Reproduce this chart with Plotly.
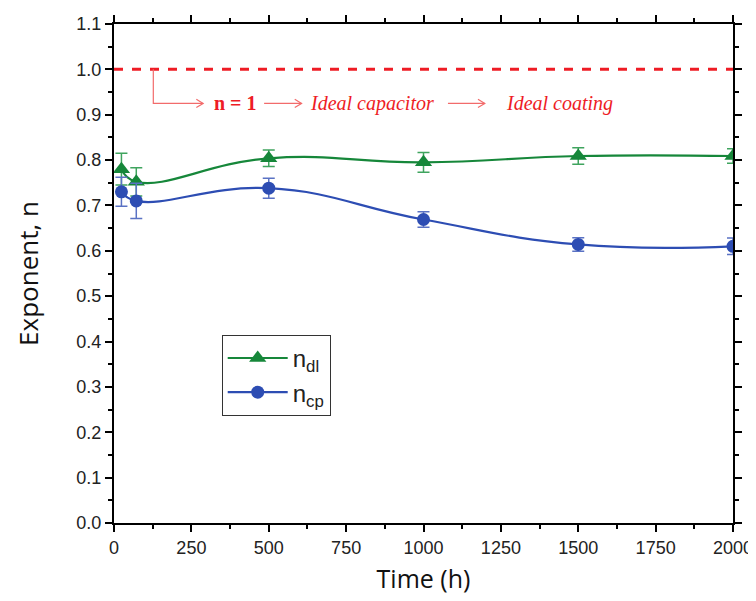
import plotly.graph_objects as go

# ---- data ----
time_h = [24, 72, 500, 1000, 1500, 2000]
n_dl = [0.780, 0.752, 0.804, 0.795, 0.809, 0.809]
n_dl_err = [0.035, 0.031, 0.018, 0.022, 0.018, 0.016]
n_cp = [0.730, 0.710, 0.738, 0.669, 0.614, 0.610]
n_cp_err = [0.032, 0.039, 0.022, 0.017, 0.015, 0.018]
ideal_n = 1.0

x_ticks = [0, 250, 500, 750, 1000, 1250, 1500, 1750, 2000]
y_ticks = [round(0.1 * i, 1) for i in range(12)]

GREEN = "#16873a"
BLUE = "#2d4db3"
RED = "#ee1c25"

fig = go.Figure()

fig.add_trace(go.Scatter(
    x=time_h, y=n_dl, mode="lines+markers", name="n<sub>dl</sub>",
    line=dict(color=GREEN, width=2.2, shape="spline", smoothing=1.3),
    marker=dict(symbol="triangle-up", size=15, color=GREEN),
    error_y=dict(type="data", array=n_dl_err, color="#3fa45e", thickness=1.5, width=6),
))
fig.add_trace(go.Scatter(
    x=time_h, y=n_cp, mode="lines+markers", name="n<sub>cp</sub>",
    line=dict(color=BLUE, width=2.2, shape="spline", smoothing=1.3),
    marker=dict(symbol="circle", size=13, color=BLUE),
    error_y=dict(type="data", array=n_cp_err, color="#5a72c4", thickness=1.5, width=6),
))

# dashed ideal line
fig.add_shape(type="line", xref="paper", x0=0, x1=1, yref="y", y0=ideal_n, y1=ideal_n,
              line=dict(color=RED, width=3, dash="dash"), layer="above")

# bracket + arrows annotation (thin red)
ya = 0.925
thin = dict(color="#f26b6b", width=1.2)
fig.add_shape(type="path", xref="x", yref="y",
              path=f"M 127,{ideal_n} L 127,{ya} L 288,{ya}", line=thin)
def chevron(xh):
    return f"M {xh-22},{ya+0.009} L {xh},{ya} L {xh-22},{ya-0.009}"
fig.add_shape(type="path", xref="x", yref="y", path=chevron(288), line=thin)
fig.add_shape(type="path", xref="x", yref="y", path=f"M 485,{ya} L 606,{ya}", line=thin)
fig.add_shape(type="path", xref="x", yref="y", path=chevron(606), line=thin)
fig.add_shape(type="path", xref="x", yref="y", path=f"M 1079,{ya} L 1198,{ya}", line=thin)
fig.add_shape(type="path", xref="x", yref="y", path=chevron(1198), line=thin)

serif = "Liberation Serif"
fig.add_annotation(x=391, y=ya, xref="x", yref="y", text="<b>n = 1</b>", showarrow=False,
                   font=dict(family=serif, size=20, color=RED))
fig.add_annotation(x=832, y=ya, xref="x", yref="y", text="<i>Ideal capacitor</i>", showarrow=False,
                   font=dict(family=serif, size=20, color=RED))
fig.add_annotation(x=1441, y=ya, xref="x", yref="y", text="<i>Ideal coating</i>", showarrow=False,
                   font=dict(family=serif, size=20, color=RED))

axis_common = dict(
    showline=True, linecolor="black", linewidth=2, mirror="allticks",
    ticks="outside", ticklen=7, tickwidth=2, tickcolor="black",
    showgrid=False, zeroline=False, automargin=False,
    tickfont=dict(family="Liberation Sans", size=18, color="#222"),
)

fig.update_xaxes(
    range=[0, 2000], tickvals=x_ticks, ticktext=[str(v) for v in x_ticks],
    minor=dict(ticks="outside", ticklen=4, tickwidth=2, tickcolor="black", dtick=125, tick0=0),
    title=dict(text="Time (h)", font=dict(family="Open Sans", size=25, color="#111"), standoff=14),
    **axis_common,
)
fig.update_yaxes(
    range=[0, 1.1], tickvals=y_ticks, ticktext=[f"{v:.1f}" for v in y_ticks],
    minor=dict(ticks="outside", ticklen=4, tickwidth=2, tickcolor="black", dtick=0.05, tick0=0),
    title=dict(text="Exponent, n", font=dict(family="Open Sans", size=26, color="#111"), standoff=30),
    **axis_common,
)

# page body has an 8px margin, so the figure is sized/offset to compensate
fig.update_layout(
    width=748, height=593,
    margin=dict(l=106, r=23, t=16, b=78, autoexpand=False),
    plot_bgcolor="white", paper_bgcolor="white",
    showlegend=True,
    legend=dict(x=0.174, y=0.377, xanchor="left", yanchor="top",
                bordercolor="#333", borderwidth=1, bgcolor="white",
                font=dict(family="Liberation Sans", size=24, color="#222"),
                itemwidth=60, tracegroupgap=8),
)

fig.write_html("out.html")
